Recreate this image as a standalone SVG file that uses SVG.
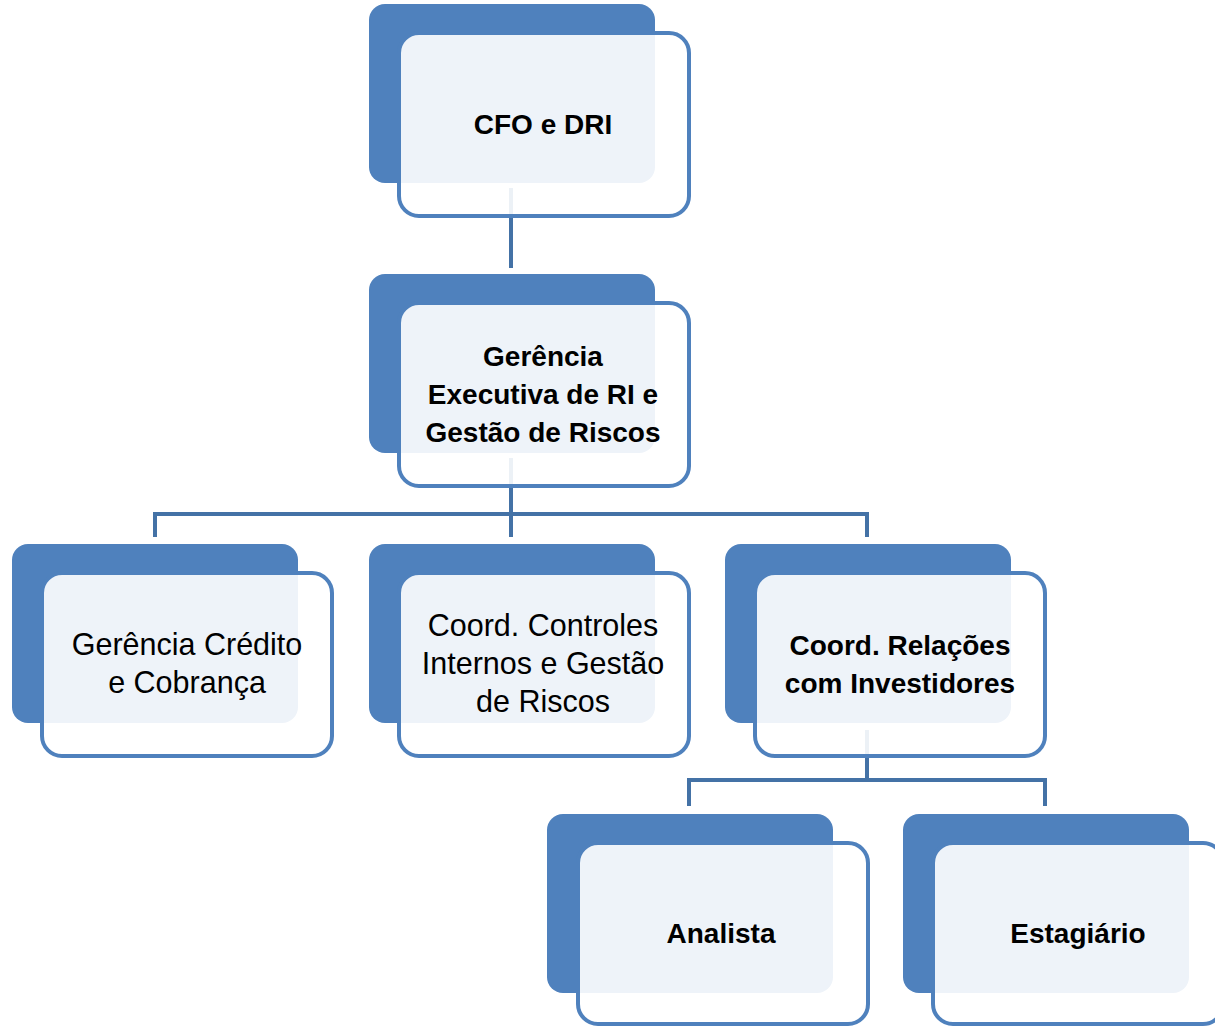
<svg xmlns="http://www.w3.org/2000/svg" width="1215" height="1027" viewBox="0 0 1215 1027">
<style>
.back{fill:#4F81BD}
.front{fill:#ffffff;fill-opacity:0.9;stroke:#4F81BD;stroke-width:4}
.conn{fill:none;stroke:#4472A6;stroke-width:4}
text{font-family:"Liberation Sans",Arial,sans-serif;fill:#000;text-anchor:middle}
.b{font-weight:bold;font-size:28px}
.n{font-size:30.5px}
</style>
<rect width="1215" height="1027" fill="#fff"/>
<g id="connectors">
<path class="conn" d="M511 188V268"/>
<path class="conn" d="M511 458V537M155 537V514H867V537"/>
<path class="conn" d="M867 730V780M689 806V780H1045V806"/>
</g>
<g id="n-cfo">
<rect class="back" x="369" y="4" width="286" height="179" rx="16"/>
<rect class="front" x="399" y="33" width="290" height="183" rx="20"/>
<text class="b" x="543" y="134">CFO e DRI</text>
</g>
<g id="n-gerencia-exec">
<rect class="back" x="369" y="274" width="286" height="179" rx="16"/>
<rect class="front" x="399" y="303" width="290" height="183" rx="20"/>
<text class="b" x="543" y="366">Gerência</text>
<text class="b" x="543" y="404">Executiva de RI e</text>
<text class="b" x="543" y="442">Gestão de Riscos</text>
</g>
<g id="n-credito">
<rect class="back" x="12" y="544" width="286" height="179" rx="16"/>
<rect class="front" x="42" y="573" width="290" height="183" rx="20"/>
<text class="n" x="187" y="655">Gerência Crédito</text>
<text class="n" x="187" y="693">e Cobrança</text>
</g>
<g id="n-controles">
<rect class="back" x="369" y="544" width="286" height="179" rx="16"/>
<rect class="front" x="399" y="573" width="290" height="183" rx="20"/>
<text class="n" x="543" y="636">Coord. Controles</text>
<text class="n" x="543" y="674">Internos e Gestão</text>
<text class="n" x="543" y="712">de Riscos</text>
</g>
<g id="n-ri">
<rect class="back" x="725" y="544" width="286" height="179" rx="16"/>
<rect class="front" x="755" y="573" width="290" height="183" rx="20"/>
<text class="b" x="900" y="655">Coord. Relações</text>
<text class="b" x="900" y="693">com Investidores</text>
</g>
<g id="n-analista">
<rect class="back" x="547" y="814" width="286" height="179" rx="16"/>
<rect class="front" x="578" y="843" width="290" height="181" rx="20"/>
<text class="b" x="721" y="943">Analista</text>
</g>
<g id="n-estagiario">
<rect class="back" x="903" y="814" width="286" height="179" rx="16"/>
<rect class="front" x="933" y="843" width="290" height="181" rx="20"/>
<text class="b" x="1078" y="943">Estagiário</text>
</g>
</svg>
